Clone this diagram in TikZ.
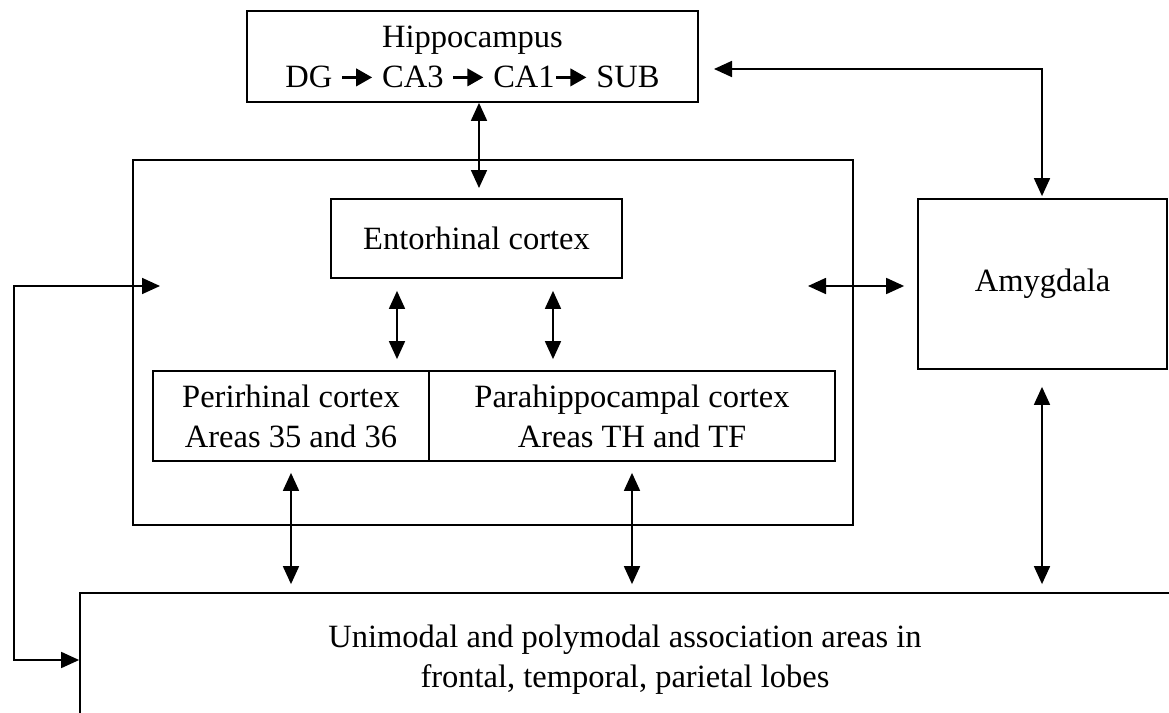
\documentclass[tikz,border=0pt]{standalone}
\usepackage{fontspec}
\setmainfont{Liberation Serif}
\usetikzlibrary{arrows.meta,positioning,calc}
\newcommand{\hipto}{\tikz[baseline=0pt]\draw[line width=2pt,-{Triangle[length=3.2mm,width=3.4mm]}] (0,0.3em) -- (0.6cm,0.3em);}

\begin{document}
\begin{tikzpicture}[
    box/.style={
      rectangle, draw=black, line width=1pt, inner sep=0pt,
      align=center, font=\fontsize{18.5}{22.8}\selectfont
    },
    link/.style={{Triangle[length=3.6mm,width=3.2mm]}-{Triangle[length=3.6mm,width=3.2mm]}, line width=1pt}
  ]
    \clip (0,0) rectangle (23.38,-14.26);
    \useasboundingbox (0,0) rectangle (23.38,-14.26);

    \node[box, minimum width=9.02cm, minimum height=1.82cm] (hippo) at (9.45,-1.13)
      {Hippocampus\\DG \hipto{} CA3 \hipto{} CA1\hipto{} SUB};
    \node[box, minimum width=14.4cm, minimum height=7.3cm] (medial) at (9.86,-6.85) {};
    \node[box, minimum width=5.82cm, minimum height=1.58cm] (ento) at (9.53,-4.77) {Entorhinal cortex};
    \node[box, minimum width=5.52cm, minimum height=1.8cm] (peri) at (5.82,-8.32)
      {Perirhinal cortex\\Areas 35 and 36};
    \node[box, minimum width=8.12cm, minimum height=1.8cm] (para) at (12.64,-8.32)
      {Parahippocampal cortex\\Areas TH and TF};
    \node[box, minimum width=4.98cm, minimum height=3.4cm] (amyg) at (20.85,-5.68) {Amygdala};
    \node[box, minimum width=21.8cm, minimum height=2.68cm] (assoc) at (12.5,-13.2)
      {Unimodal and polymodal association areas in\\frontal, temporal, parietal lobes};

    \coordinate (hin) at (9.58,-3.76);
    \coordinate (hout) at (14.28,-1.38);
    \coordinate (lin) at (3.2,-5.72);
    \coordinate (lbend) at (0.28,-5.72);
    \coordinate (rin) at (16.16,-5.72);
    \coordinate (e1) at (7.94,-6.5);
    \coordinate (e2) at (11.06,-6.5);
    \coordinate (a1) at (20.84,-9.5);

    \draw[link] (hin |- hippo.south) -- (hin);
    \draw[link, shorten >=0.04cm] (hout) -| (amyg.north -| a1);
    \draw[link] (lin) -- (lbend) |- (assoc.west);
    \draw[link, shorten >=0.26cm] (rin) -- (rin -| amyg.west);
    \draw[link, shorten <=0.24cm, shorten >=0.22cm] (e1 |- ento.south) -- (e1 |- peri.north);
    \draw[link, shorten <=0.24cm, shorten >=0.22cm] (e2 |- ento.south) -- (e2 |- para.north);
    \draw[link, shorten <=0.22cm, shorten >=0.16cm] (peri.south) -- (peri.south |- assoc.north);
    \draw[link, shorten <=0.22cm, shorten >=0.16cm] (para.south) -- (para.south |- assoc.north);
    \draw[link, shorten <=0.34cm, shorten >=0.16cm] (a1 |- amyg.south) -- (a1 |- assoc.north);
  \end{tikzpicture}
\end{document}
